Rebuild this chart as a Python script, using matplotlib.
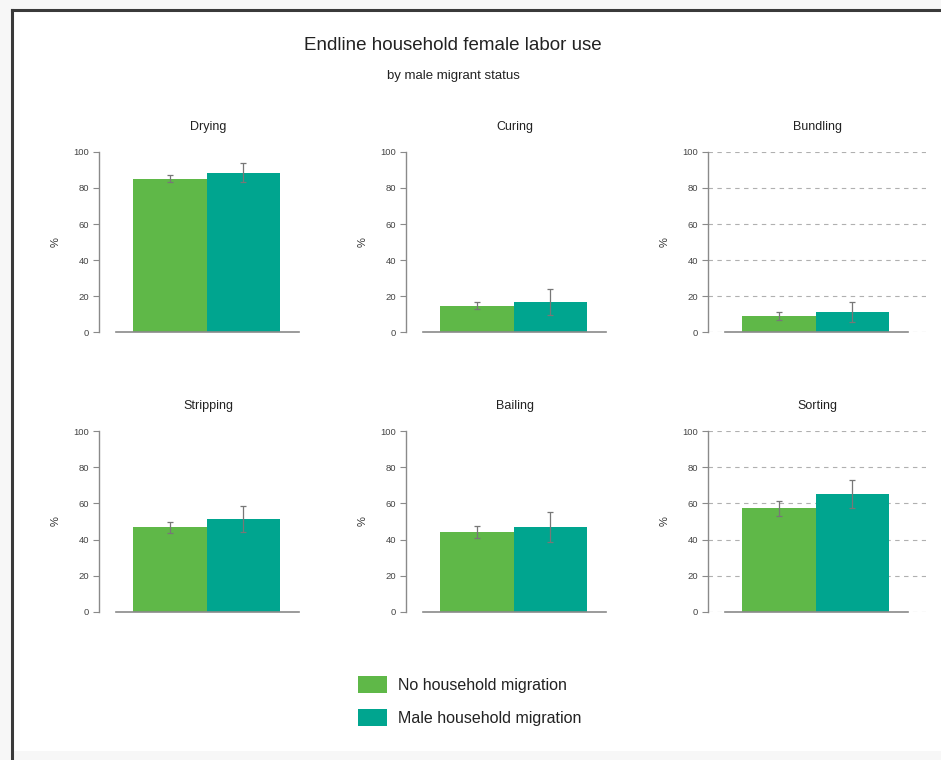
import matplotlib
matplotlib.use("Agg")
import matplotlib.pyplot as plt
from matplotlib.patches import Rectangle, Patch
from matplotlib.lines import Line2D

plt.rcParams["font.family"] = ["Liberation Sans", "DejaVu Sans"]

# Data
activities = ["Drying", "Curing", "Bundling", "Stripping", "Bailing", "Sorting"]
groups = ["No household migration", "Male household migration"]
no_migration = [85.0, 14.7, 9.0, 46.7, 44.1, 57.2]
male_migration = [88.5, 16.9, 11.2, 51.3, 46.7, 65.0]
err_no_migration = [2.0, 1.9, 2.0, 3.0, 3.3, 4.2]
err_male_migration = [5.2, 7.2, 5.4, 7.0, 8.3, 7.7]
gridded = [False, False, True, False, False, True]
yticks = [0, 20, 40, 60, 80, 100]

colors = ["#5fb848", "#00a58f"]
W, H = 941, 760
fig = plt.figure(figsize=(W / 100, H / 100), dpi=100, facecolor="#f7f7f7")

# page frame
fig.patches.append(Rectangle((12 / W, 9 / H), 1, (H - 19) / H, transform=fig.transFigure,
                             facecolor="white", edgecolor="none", zorder=-5))
fig.add_artist(Line2D([12 / W, 12 / W], [0, (H - 10) / H], transform=fig.transFigure,
                      color="#3a3a3a", lw=2.2, zorder=-4))
fig.add_artist(Line2D([12 / W, 1], [(H - 10) / H, (H - 10) / H], transform=fig.transFigure,
                      color="#3a3a3a", lw=2.2, zorder=-4))

fig.text(453 / W, 1 - 46 / H, "Endline household female labor use", ha="center", va="center",
         fontsize=13.5, color="#222222")
fig.text(453 / W, 1 - 76 / H, "by male migrant status", ha="center", va="center",
         fontsize=9.5, color="#222222")

col_left = [99, 406, 708]
row_bottom = [332.3, 611.7]
ax_w = 218
ax_h = 180.5

for i, name in enumerate(activities):
    r, c = divmod(i, 3)
    left = col_left[c] / W
    bottom = 1 - row_bottom[r] / H
    ax = fig.add_axes([left, bottom, ax_w / W, ax_h / H])
    ax.set_facecolor("none")
    vals = [no_migration[i], male_migration[i]]
    errs = [err_no_migration[i], err_male_migration[i]]
    ax.bar([0, 1], vals, width=1.0, color=colors, edgecolor="none", zorder=2)
    ax.errorbar([0, 1], vals, yerr=errs, fmt="none", ecolor="#777777", elinewidth=0.9,
                capsize=2.5, capthick=0.9, zorder=3, clip_on=False)
    ax.set_xlim(-0.96, 2.0)
    ax.set_ylim(0, 100)
    ax.set_yticks(yticks)
    ax.set_xticks([])
    for s in ["top", "right"]:
        ax.spines[s].set_visible(False)
    ax.spines["left"].set_color("#8a8a8a")
    ax.spines["left"].set_linewidth(1.0)
    ax.spines["bottom"].set_color("#8a8a8a")
    ax.spines["bottom"].set_linewidth(1.2)
    ax.spines["bottom"].set_bounds(-0.73, 1.76)
    ax.tick_params(axis="y", length=4, width=0.8, color="#8a8a8a", labelsize=6.8,
                   labelcolor="#444444", pad=3)
    if gridded[i]:
        ax.yaxis.grid(True, linestyle=(0, (4, 4)), color="#b0b0b0", linewidth=0.8)
        ax.set_axisbelow(True)
    ax.set_ylabel("%", fontsize=8, color="#333333", labelpad=9)
    ax.set_title(name, fontsize=9, color="#222222", pad=16)

handles = [Patch(facecolor=colors[0], edgecolor="none"),
           Patch(facecolor=colors[1], edgecolor="none")]
fig.legend(handles, groups, loc="center", bbox_to_anchor=(470 / W, 1 - 701 / H),
           frameon=False, fontsize=11.5, handlelength=1.8, handleheight=1.3,
           handletextpad=0.7, labelspacing=0.95, labelcolor="#222222")

fig.savefig("out.png", dpi=100, facecolor=fig.get_facecolor())
